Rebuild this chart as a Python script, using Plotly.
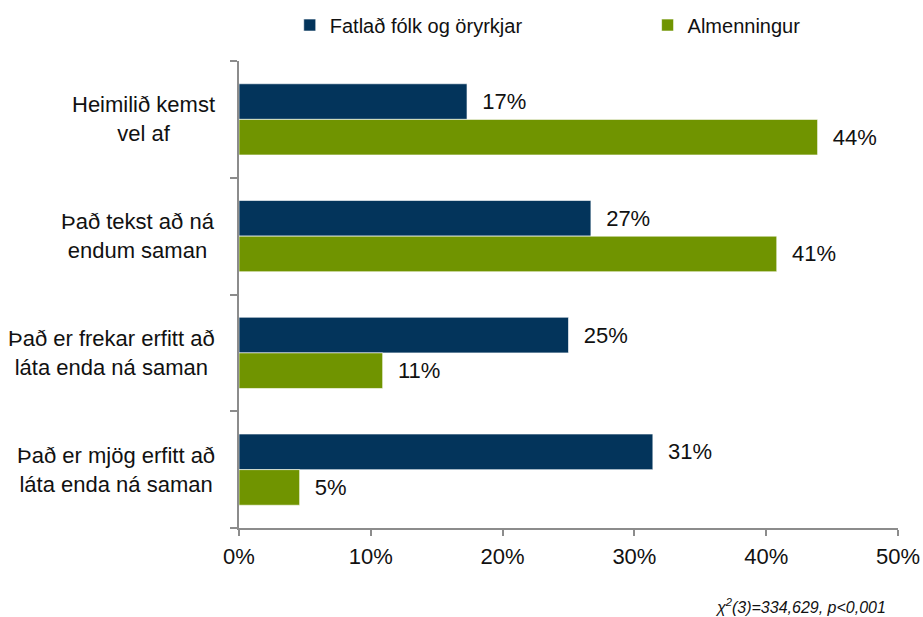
import plotly.graph_objects as go

# Categories (top to bottom) and shares in percent
categories = [
    "Heimilið kemst<br>vel af",
    "Það tekst að ná<br>endum saman",
    "Það er frekar erfitt að<br>láta enda ná saman",
    "Það er mjög erfitt að<br>láta enda ná saman",
]
series_names = ["Fatlað fólk og öryrkjar", "Almenningur"]
disabled = [17.3, 26.7, 25.0, 31.4]
general = [43.9, 40.8, 10.9, 4.6]
x_ticks = [0, 10, 20, 30, 40, 50]
x_tick_labels = ["0%", "10%", "20%", "30%", "40%", "50%"]

FONT = "Liberation Sans, Arial, sans-serif"
BLUE = "#03345B"
GREEN = "#709400"
AXIS = "#8C8C8C"

ypos = list(range(len(categories)))

fig = go.Figure()
for name, vals, color, leg in [(series_names[0], disabled, BLUE, "legend"),
                               (series_names[1], general, GREEN, "legend2")]:
    fig.add_trace(go.Bar(
        name=name,
        y=ypos,
        x=vals,
        orientation="h",
        legend=leg,
        marker=dict(color=color, line=dict(color="rgba(255,255,255,0.6)", width=1)),
        texttemplate="\u00a0\u00a0%{x:.0f}%",
        textposition="outside",
        textfont=dict(size=22, color="#111111", family=FONT),
        constraintext="none",
        cliponaxis=False,
        hoverinfo="skip",
    ))

# Category labels, centred lines set to the left of the axis
for i, cat in enumerate(categories):
    fig.add_annotation(
        x=0, xref="paper", xanchor="right", xshift=-22,
        y=i, yref="y", yanchor="middle",
        text=cat, align="center", showarrow=False,
        font=dict(size=22, color="#111111", family=FONT),
    )

fig.add_annotation(
    x=1, xref="paper", xanchor="right", xshift=-10,
    y=0, yref="paper", yanchor="middle", yshift=-78,
    text="<i>χ<sup>2</sup>(3)=334,629, p&lt;0,001</i>",
    showarrow=False,
    font=dict(size=16, color="#111111", family=FONT),
)

legend_style = dict(
    orientation="h", xanchor="left", y=1.077, yanchor="middle",
    font=dict(size=20, family=FONT, color="#111111"),
    bgcolor="rgba(0,0,0,0)",
)

fig.update_layout(
    width=923, height=617,
    margin=dict(l=239, r=25, t=61, b=89, autoexpand=False),
    paper_bgcolor="white", plot_bgcolor="white",
    barmode="group", bargap=0.39, bargroupgap=0,
    font=dict(family=FONT, size=20, color="#111111"),
    showlegend=True,
    legend=dict(x=0.077, **legend_style),
    legend2=dict(x=0.62, **legend_style),
    xaxis=dict(
        range=[0, 50], tickvals=x_ticks, ticktext=x_tick_labels,
        showgrid=False, zeroline=False,
        showline=True, linecolor=AXIS, linewidth=2,
        ticks="outside", ticklen=6, tickcolor=AXIS, tickwidth=1.5,
        tickfont=dict(size=22, family=FONT, color="#111111"),
        ticklabelstandoff=2,
    ),
    yaxis=dict(
        range=[3.5, -0.5],
        tickvals=[-0.5, 0.5, 1.5, 2.5, 3.5], showticklabels=False,
        showgrid=False, zeroline=False,
        showline=True, linecolor=AXIS, linewidth=2,
        ticks="outside", ticklen=7, tickcolor=AXIS, tickwidth=1.5,
    ),
)

fig.write_html("out.html")
